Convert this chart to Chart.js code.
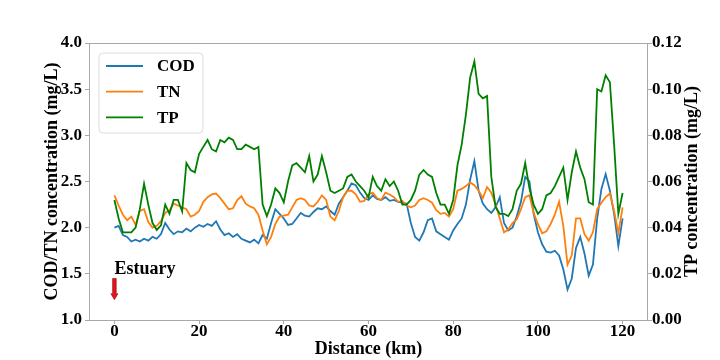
<!DOCTYPE html>
<html><head><meta charset="utf-8">
<script src="https://cdn.jsdelivr.net/npm/chart.js@4.4.1/dist/chart.umd.min.js"></script>
<style>html,body{margin:0;padding:0;background:#fff}#wrap{width:720px;height:360px}</style>
</head><body><div id="wrap"><canvas id="c" width="720" height="360"></canvas></div>
<script>
const distance = [0,1,2,3,4,5,6,7,8,9,10,11,12,13,14,15,16,17,18,19,20,21,22,23,24,25,26,27,28,29,30,31,32,33,34,35,36,37,38,39,40,41,42,43,44,45,46,47,48,49,50,51,52,53,54,55,56,57,58,59,60,61,62,63,64,65,66,67,68,69,70,71,72,73,74,75,76,77,78,79,80,81,82,83,84,85,86,87,88,89,90,91,92,93,94,95,96,97,98,99,100,101,102,103,104,105,106,107,108,109,110,111,112,113,114,115,116,117,118,119,120];
const cod = [2.00,2.02,1.92,1.90,1.85,1.87,1.85,1.88,1.86,1.90,1.88,1.93,2.05,1.98,1.93,1.96,1.95,1.99,1.96,2.00,2.03,2.01,2.04,2.02,2.07,1.98,1.92,1.94,1.90,1.93,1.88,1.86,1.84,1.87,1.83,1.92,1.88,2.05,2.20,2.15,2.10,2.03,2.04,2.10,2.16,2.13,2.12,2.17,2.21,2.20,2.23,2.18,2.14,2.26,2.33,2.40,2.48,2.46,2.38,2.32,2.30,2.35,2.31,2.30,2.33,2.29,2.30,2.28,2.27,2.26,2.05,1.90,1.86,1.95,2.08,2.10,1.96,1.93,1.90,1.87,1.97,2.04,2.10,2.25,2.52,2.72,2.40,2.26,2.20,2.16,2.22,2.33,2.05,1.97,2.00,2.12,2.28,2.55,2.50,2.15,1.95,1.82,1.74,1.73,1.75,1.70,1.55,1.33,1.45,1.78,1.90,1.72,1.48,1.60,2.10,2.42,2.58,2.40,2.15,1.80,2.10];
const tn = [2.35,2.24,2.14,2.08,2.12,2.03,2.18,2.20,2.06,2.00,2.02,2.07,2.16,2.19,2.26,2.24,2.22,2.20,2.12,2.14,2.18,2.28,2.33,2.36,2.37,2.32,2.26,2.20,2.21,2.30,2.34,2.26,2.23,2.21,2.14,1.97,1.82,1.90,2.04,2.12,2.13,2.14,2.22,2.30,2.32,2.30,2.24,2.23,2.28,2.35,2.30,2.12,2.08,2.18,2.33,2.40,2.40,2.36,2.28,2.29,2.36,2.38,2.32,2.30,2.38,2.36,2.33,2.28,2.29,2.24,2.22,2.24,2.30,2.32,2.30,2.27,2.19,2.15,2.16,2.12,2.20,2.40,2.42,2.45,2.49,2.46,2.40,2.32,2.44,2.38,2.25,2.10,1.95,1.98,2.05,2.09,2.20,2.33,2.35,2.16,2.04,1.94,1.96,2.04,2.14,2.28,2.02,1.60,1.70,2.10,2.10,1.93,1.86,1.95,2.20,2.27,2.33,2.37,2.18,1.94,2.22];
const tp = [0.052,0.044,0.038,0.038,0.038,0.040,0.048,0.059,0.050,0.042,0.039,0.041,0.050,0.046,0.052,0.052,0.047,0.068,0.065,0.064,0.072,0.075,0.078,0.074,0.073,0.078,0.077,0.079,0.078,0.074,0.074,0.076,0.075,0.074,0.075,0.050,0.045,0.050,0.057,0.055,0.051,0.060,0.067,0.068,0.066,0.064,0.071,0.060,0.063,0.071,0.064,0.056,0.055,0.056,0.057,0.062,0.063,0.060,0.058,0.056,0.053,0.062,0.058,0.056,0.061,0.058,0.060,0.056,0.050,0.050,0.052,0.056,0.063,0.065,0.063,0.062,0.055,0.050,0.050,0.046,0.052,0.067,0.076,0.089,0.105,0.112,0.098,0.096,0.097,0.062,0.049,0.046,0.046,0.045,0.048,0.056,0.059,0.068,0.057,0.050,0.046,0.048,0.054,0.055,0.058,0.062,0.066,0.052,0.064,0.073,0.066,0.061,0.051,0.050,0.100,0.099,0.106,0.103,0.076,0.046,0.055];
const xTicks = [0,20,40,60,80,100,120];
const leftTicks = [1.0,1.5,2.0,2.5,3.0,3.5,4.0];
const rightTicks = [0.00,0.02,0.04,0.06,0.08,0.10,0.12];
const seriesNames = ['COD','TN','TP'];
const xTitle = 'Distance (km)';
const leftTitle = 'COD/TN concentration (mg/L)';
const rightTitle = 'TP concentration (mg/L)';
const estuaryLabel = 'Estuary';
const estuaryX = 0;
const estuaryTextY = 1.5;
const arrowFromY = 1.45;
const arrowToY = 1.22;

const colors = ['#1f77b4','#ff7f0e','#008000'];
const serif = '"Liberation Serif","Times New Roman",serif';
const pts = arr => distance.map((d,i)=>({x:d,y:arr[i]}));

const framePlugin = {
  id:'frame',
  afterDatasetsDraw(chart){
    const {ctx, chartArea:a, scales} = chart;
    ctx.save();
    ctx.strokeStyle = '#a8a8a8'; ctx.lineWidth = 1;
    ctx.strokeRect(Math.round(a.left)+0.5, Math.round(a.top)+0.5, Math.round(a.right-a.left)-1, Math.round(a.bottom-a.top));
    // legend
    const lx = a.left + 10, ly = a.top + 10, lw = 104, lh = 80, r = 4;
    ctx.beginPath();
    ctx.moveTo(lx+r,ly); ctx.lineTo(lx+lw-r,ly); ctx.quadraticCurveTo(lx+lw,ly,lx+lw,ly+r);
    ctx.lineTo(lx+lw,ly+lh-r); ctx.quadraticCurveTo(lx+lw,ly+lh,lx+lw-r,ly+lh);
    ctx.lineTo(lx+r,ly+lh); ctx.quadraticCurveTo(lx,ly+lh,lx,ly+lh-r);
    ctx.lineTo(lx,ly+r); ctx.quadraticCurveTo(lx,ly,lx+r,ly); ctx.closePath();
    ctx.fillStyle = 'rgba(255,255,255,0.85)'; ctx.fill();
    ctx.strokeStyle = '#dcdcdc'; ctx.stroke();
    ctx.font = 'bold 17px ' + serif; ctx.textBaseline = 'middle'; ctx.textAlign = 'left';
    seriesNames.forEach((n,i)=>{
      const yy = ly + 13 + i*25.7;
      ctx.strokeStyle = colors[i]; ctx.lineWidth = 1.8;
      ctx.beginPath(); ctx.moveTo(lx+7, yy); ctx.lineTo(lx+44, yy); ctx.stroke();
      ctx.fillStyle = '#000'; ctx.fillText(n, lx+58, yy+1);
    });
    // estuary annotation
    const ex = scales.x.getPixelForValue(estuaryX);
    const ty = scales.y.getPixelForValue(estuaryTextY);
    ctx.font = 'bold 18px ' + serif; ctx.textBaseline = 'alphabetic'; ctx.fillStyle = '#000';
    ctx.fillText(estuaryLabel, ex, ty);
    const y0 = scales.y.getPixelForValue(arrowFromY), y1 = scales.y.getPixelForValue(arrowToY);
    ctx.beginPath();
    ctx.moveTo(ex-1.8, y0); ctx.lineTo(ex+1.8, y0); ctx.lineTo(ex+1.8, y1-6);
    ctx.lineTo(ex+3.5, y1-6); ctx.lineTo(ex, y1); ctx.lineTo(ex-3.5, y1-6); ctx.lineTo(ex-1.8, y1-6); ctx.closePath();
    ctx.fillStyle = '#e8141c'; ctx.fill(); ctx.strokeStyle = '#8a0a0a'; ctx.lineWidth = 0.6; ctx.stroke();
    // axis titles (rotated, reading bottom-to-top on both sides)
    ctx.font = 'bold 18px ' + serif; ctx.textAlign = 'center'; ctx.textBaseline = 'middle'; ctx.fillStyle = '#000';
    const cy = (a.top + a.bottom) / 2;
    ctx.save(); ctx.translate(52, cy); ctx.rotate(-Math.PI/2); ctx.fillText(leftTitle, 0, 0); ctx.restore();
    ctx.save(); ctx.translate(692, cy); ctx.rotate(-Math.PI/2); ctx.fillText(rightTitle, 0, 0); ctx.restore();
    ctx.fillText(xTitle, (a.left + a.right) / 2, 349);
    ctx.restore();
  }
};

const tickFont = {family: serif, size: 17, weight: 'bold'};
const gridOpt = {display:true, drawOnChartArea:false, drawTicks:true, tickLength:4, color:'#a8a8a8'};

new Chart(document.getElementById('c'), {
  type:'line',
  data:{datasets:[
    {label:seriesNames[0], data:pts(cod), borderColor:colors[0], yAxisID:'y', order:3},
    {label:seriesNames[1], data:pts(tn), borderColor:colors[1], yAxisID:'y', order:2},
    {label:seriesNames[2], data:pts(tp), borderColor:colors[2], yAxisID:'y1', order:1}
  ]},
  options:{
    responsive:false, animation:false, devicePixelRatio:1,
    layout:{padding:{top:43,left:0,right:0,bottom:0}},
    elements:{point:{radius:0}, line:{borderWidth:1.8, tension:0}},
    plugins:{legend:{display:false}, tooltip:{enabled:false}},
    scales:{
      x:{type:'linear', min:-6, max:126,
        afterBuildTicks:s=>{s.ticks = xTicks.map(v=>({value:v}));},
        afterFit:s=>{s.height = 40;},
        grid:gridOpt, border:{display:false},
        ticks:{font:tickFont, color:'#000', padding:-3, maxRotation:0, autoSkip:false, callback:v=>String(v)}
      },
      y:{type:'linear', position:'left', min:1, max:4,
        afterBuildTicks:s=>{s.ticks = leftTicks.map(v=>({value:v}));},
        afterFit:s=>{s.width = 89;},
        grid:gridOpt, border:{display:false},
        ticks:{font:tickFont, color:'#000', padding:3, callback:v=>Number(v).toFixed(1)}
      },
      y1:{type:'linear', position:'right', min:0, max:0.12,
        afterBuildTicks:s=>{s.ticks = rightTicks.map(v=>({value:v}));},
        afterFit:s=>{s.width = 72;},
        grid:gridOpt, border:{display:false},
        ticks:{font:tickFont, color:'#000', padding:0, callback:v=>Number(v).toFixed(2)}
      }
    }
  },
  plugins:[framePlugin]
});
</script></body></html>
